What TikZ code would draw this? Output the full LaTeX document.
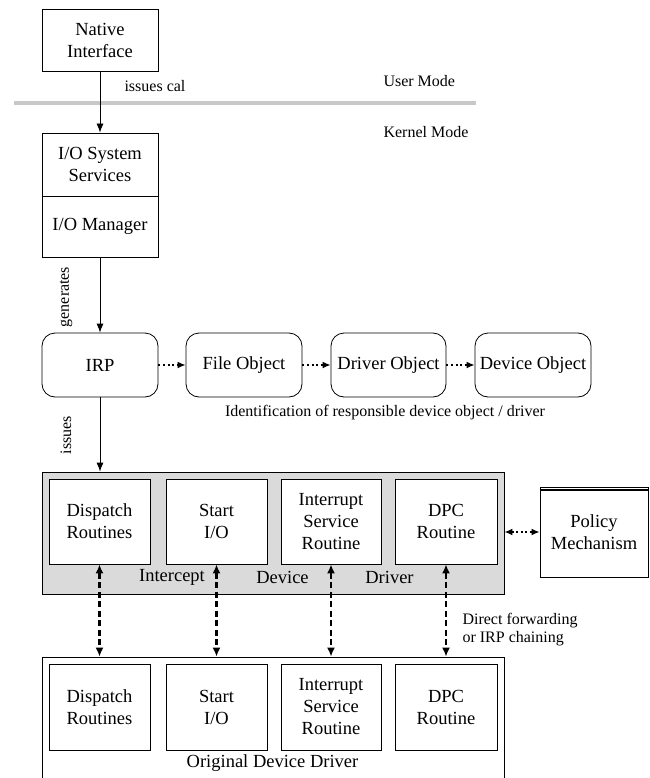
\documentclass[tikz,border=0pt]{standalone}
\usepackage{fontspec}
\setmainfont{Liberation Serif}
\usetikzlibrary{arrows.meta}
\definecolor{graybar}{RGB}{200,200,200}
\definecolor{grayfill}{RGB}{218,218,218}
\tikzset{
  x=1pt, y=-1pt,
  big/.style={font=\fontsize{18.5}{22}\selectfont},
  small/.style={font=\fontsize{16}{18}\selectfont},
  box/.style={draw, line width=0.8pt, align=center, inner sep=0pt, big},
  robox/.style={box, rounded corners=13pt},
  solidarrow/.style={line width=0.8pt, -{Latex[length=9pt,width=7pt]}},
  dotarrow/.style={line width=1.8pt, dash pattern=on 2pt off 2.6pt, -{Latex[length=8pt,width=7pt]}},
  dotdouble/.style={line width=1.8pt, dash pattern=on 2pt off 2.6pt, {Latex[length=8pt,width=7pt]}-{Latex[length=8pt,width=7pt]}},
  dasharrow/.style={line width=2.4pt, dash pattern=on 6pt off 3.5pt, {Latex[length=9pt,width=8pt]}-{Latex[length=9pt,width=8pt]}},
}
\begin{document}
\begin{tikzpicture}
\useasboundingbox (0,0) rectangle (649,778);
% mode separator
\draw[graybar, line width=3.5pt] (14,103) -- (476,103);
\node[small, anchor=west] (user) at (380,81) {User Mode};
\node[small, anchor=west] (kernel) at (380,132) {Kernel Mode};

% top column
\node[box, minimum width=116pt, minimum height=62pt] (native) at (100,40) {Native\\Interface};
\node[box, minimum width=116pt, minimum height=63pt] (iosys) at (100,164.5) {I/O System\\Services};
\node[box, minimum width=116pt, minimum height=61pt] (iomgr) at (100,226.5) {I/O Manager};
\draw[solidarrow] (native.south) -- (iosys.north);
\node[small, anchor=west] (callbl) at (121,86) {issues cal};

% object chain
\node[robox, minimum width=116pt, minimum height=64pt] (irp) at (100,365) {IRP};
\node[robox, minimum width=116pt, minimum height=64pt] (fileobj) at (244,365) {File Object};
\node[robox, minimum width=115pt, minimum height=64pt] (drvobj) at (388.5,365) {Driver Object};
\node[robox, minimum width=116pt, minimum height=64pt] (devobj) at (533,365) {Device Object};
\draw[solidarrow] (iomgr.south) -- (irp.north);
\node[small, rotate=90] (genlbl) at (66,297) {generates};
\draw[dotarrow] (irp.east) -- (fileobj.west);
\draw[dotarrow] (fileobj.east) -- (drvobj.west);
\draw[dotarrow] (drvobj.east) -- (devobj.west);
\node[small] (ident) at (385,413) {Identification of responsible device object / driver};

% intercept driver
\node[draw, line width=0.8pt, fill=grayfill, minimum width=462pt, minimum height=122pt, inner sep=0pt] (icpt) at (273,533) {};
\draw[solidarrow] (irp.south) -- (irp.south |- icpt.north);
\node[small, rotate=90] (isslbl) at (66,435) {issues};
\node[box, fill=white, minimum width=101pt, minimum height=85pt] (u1) at (99.5,521.5) {Dispatch\\Routines};
\node[box, fill=white, minimum width=101pt, minimum height=85pt] (u2) at (216.5,521.5) {Start\\I/O};
\node[box, fill=white, minimum width=100pt, minimum height=85pt] (u3) at (331,521.5) {Interrupt\\Service\\Routine};
\node[box, fill=white, minimum width=102pt, minimum height=85pt] (u4) at (446,521.5) {DPC\\Routine};
\node[big] (w1) at (172,577) {Intercept};
\node[big] (w2) at (282.5,577) {Device};
\node[big] (w3) at (389.5,577) {Driver};

% policy
\node[box, minimum width=108pt, minimum height=90pt] (policy) at (594,532) {Policy\\Mechanism};
\draw[line width=2pt] ([yshift=-3pt]policy.north west) -- ([yshift=-3pt]policy.north east);
\draw[dotdouble] (icpt.east |- policy.west) -- (policy.west);

% original driver
\node[draw, line width=0.8pt, minimum width=462pt, minimum height=140pt, inner sep=0pt] (orig) at (273,727) {};
\node[box, minimum width=101pt, minimum height=86pt] (l1) at (99.5,707) {Dispatch\\Routines};
\node[box, minimum width=101pt, minimum height=86pt] (l2) at (216.5,707) {Start\\I/O};
\node[box, minimum width=100pt, minimum height=86pt] (l3) at (331,707) {Interrupt\\Service\\Routine};
\node[box, minimum width=102pt, minimum height=86pt] (l4) at (446,707) {DPC\\Routine};
\node[big] (origlbl) at (272.5,763) {Original Device Driver};

\draw[dasharrow] (u1.south) -- (u1.south |- orig.north);
\draw[dasharrow] (u2.south) -- (u2.south |- orig.north);
\draw[dasharrow] (u3.south) -- (u3.south |- orig.north);
\draw[dasharrow] (u4.south) -- (u4.south |- orig.north);
\node[small, anchor=west, align=left] (fwd) at (459,630) {Direct forwarding\\or IRP chaining};
\end{tikzpicture}
\end{document}
